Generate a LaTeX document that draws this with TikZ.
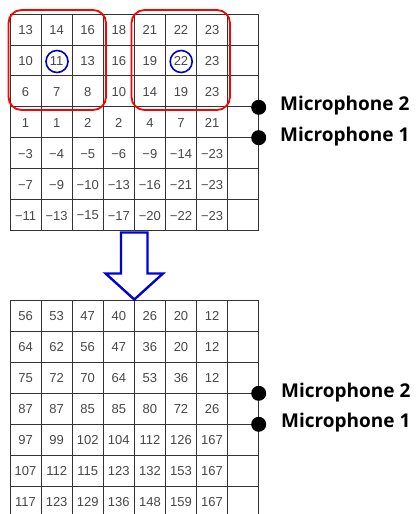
\documentclass[tikz,border=0pt]{standalone}
\usepackage{fontspec}
\setmainfont{Liberation Sans}
\newfontfamily\labfont{Open Sans}
\begin{document}
\begin{tikzpicture}[x=1pt,y=-1pt,
  gridline/.style={draw=black!80,line width=0.9pt},
  cellnum/.style={inner sep=0pt,text=black!72,font=\fontsize{13}{13}\selectfont},
  redbox/.style={draw=red,line width=1.8pt,rounded corners=13pt},
  bluering/.style={draw=blue!80!black,line width=1.6pt,circle,minimum size=22pt,inner sep=0pt},
  micdot/.style={circle,fill=black,minimum size=15pt,inner sep=0pt},
  miclabel/.style={anchor=west,inner sep=0pt,font=\labfont\bfseries\fontsize{19}{19}\selectfont},
  bigarrow/.style={draw=blue!85!black,line width=2.4pt,line join=miter,fill=white}]
\useasboundingbox (0,0) rectangle (416,514);
\def\cw{31.09}
% ---------- grids ----------
\begin{scope}
\clip (0,0) rectangle (416,514);
\foreach \i in {0,...,8} \draw[gridline] (10+\i*\cw,14) -- (10+\i*\cw,230.7);
\foreach \j in {0,...,7} \draw[gridline] (10,14+\j*30.96) -- (258.7,14+\j*30.96);
\foreach \i in {0,...,8} \draw[gridline] (10+\i*\cw,300) -- (10+\i*\cw,520);
\foreach \j in {0,...,6} \draw[gridline] (10,300+\j*31.1) -- (258.7,300+\j*31.1);
\end{scope}
% numbers top
\foreach \row [count=\r] in {
 {13,14,16,18,21,22,23},
 {10,11,13,16,19,22,23},
 {6,7,8,10,14,19,23},
 {1,1,2,2,4,7,21},
 {−3,−4,−5,−6,−9,−14,−23},
 {−7,−9,−10,−13,−16,−21,−23},
 {−11,−13,−15,−17,−20,−22,−23}}{
  \foreach \v [count=\c] in \row {
    \node[cellnum] (t-\r-\c) at (10+\c*\cw-0.5*\cw,14+\r*30.96-0.5*30.96+0.3) {\v};
  }
}
% numbers bottom
\foreach \row [count=\r] in {
 {56,53,47,40,26,20,12},
 {64,62,56,47,36,20,12},
 {75,72,70,64,53,36,12},
 {87,87,85,85,80,72,26},
 {97,99,102,104,112,126,167},
 {107,112,115,123,132,153,167},
 {117,123,129,136,148,159,167}}{
  \foreach \v [count=\c] in \row {
    \node[cellnum] (b-\r-\c) at (10+\c*\cw-0.5*\cw,300+\r*31.1-0.5*31.1+0.3) {\v};
  }
}
% red boxes
\draw[redbox] (8.5,10) rectangle (106,110);
\draw[redbox] (131.5,10) rectangle (230,110);
% blue rings
\node[bluering] (ring1) at (57,61.5) {};
\node[bluering] (ring2) at (181.2,61.5) {};
% arrow
\draw[bigarrow] (121,232.5) -- (147.5,232.5) -- (147.5,273.5) -- (163,273.5) -- (134.3,299.5) -- (105.6,273.5) -- (121,273.5) -- cycle;
% microphones top
\node[micdot] (tm2) at (258.7,107.3) {};
\node[micdot] (tm1) at (258.7,137.7) {};
\node[miclabel] (tl2) at (280,106) {Microphone 2};
\node[miclabel] (tl1) at (280,137) {Microphone 1};
% microphones bottom
\node[micdot] (bm2) at (258.7,393.3) {};
\node[micdot] (bm1) at (258.7,424.3) {};
\node[miclabel] (bl2) at (281,392.5) {Microphone 2};
\node[miclabel] (bl1) at (281,423) {Microphone 1};
\end{tikzpicture}
\end{document}
